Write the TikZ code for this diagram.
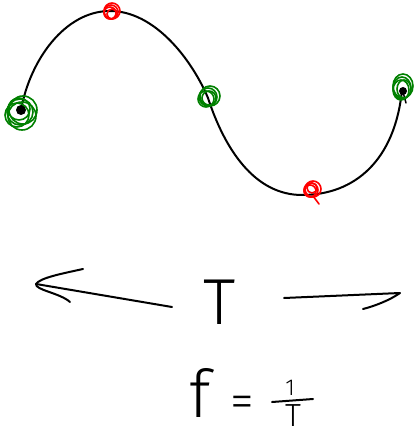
\documentclass[tikz,border=0pt]{standalone}
\usepackage{fontspec}
\usetikzlibrary{calc}
\IfFontExistsTF{Fira Sans Light}{\newfontfamily\thinT{Fira Sans Light}}{\newcommand\thinT{\sffamily}}
\begin{document}
\begin{tikzpicture}[x=1pt,y=-1pt,
  wave/.style={line width=2pt,line cap=round,line join=round},
  greenscrib/.style={draw=green!50!black,line width=1.6pt},
  redscrib/.style={draw=red,line width=1.6pt},
  hand/.style={line width=2pt,line cap=round,line join=round},
  lbl/.style={inner sep=0pt,font=\thinT}]
\useasboundingbox (0,0) rectangle (417,435);
% sine wave
\coordinate (start) at (21,110);
\coordinate (peak) at (110,11);
\coordinate (cross) at (208,98);
\coordinate (trough) at (302,195);
\coordinate (finish) at (402,90);
\draw[wave] (start) .. controls (30,60) and (65,11) .. (peak)
  .. controls (155,11) and (192,60) .. (cross)
  .. controls (225,150) and (255,195) .. (trough)
  .. controls (355,195) and (395,160) .. (finish);
% black end dots
\fill (start) circle (5pt);
\fill (403,91) circle (4pt);
\draw[wave,line width=1.5pt] (403,92) -- (406,103);
% green scribbles
\coordinate (g1) at (20,112);
\coordinate (g2) at (208,97);
\coordinate (g3) at (402,88);
\foreach \dx/\dy/\r in {0/0/13, 3/-2/14, -3/3/12, 2/4/14, -1/-3/11}
  \draw[greenscrib] ($(g1)+(\dx,\dy)$) circle (\r pt);
\foreach \dx/\dy/\r in {0/0/9, 2/-1/10, -2/2/8, 1/1/7}
  \draw[greenscrib] ($(g2)+(\dx,\dy)$) circle (\r pt);
\foreach \dx/\dy/\r in {0/0/9, 1/-2/10, -1/2/8, 2/1/7}
  \draw[greenscrib] ($(g3)+(\dx,\dy)$) ellipse (\r pt and \r pt+2pt);
% red scribbles
\coordinate (r1) at (111,12);
\coordinate (r2) at (311,190);
\foreach \dx/\dy/\r in {0/0/7, 1/-1/8, -1/1/6, 1/2/5}
  \draw[redscrib] ($(r1)+(\dx,\dy)$) circle (\r pt);
\foreach \dx/\dy/\r in {0/0/7, 2/-1/8, -1/1/6, 1/-2/5}
  \draw[redscrib] ($(r2)+(\dx,\dy)$) circle (\r pt);
\draw[redscrib,line cap=round] (313,196) -- (319,204);
% period arrows
\node[lbl,scale=6.5,anchor=base] (T) at (220,324) {T};
\coordinate (la) at (172,307);
\coordinate (ltip) at (36,284);
\coordinate (ra) at (284,298);
\coordinate (rtip) at (400,293);
\draw[hand] (la) -- (ltip);
\draw[hand] (83,269) .. controls (60,274) and (40,278) .. (ltip) .. controls (35,290) and (60,293) .. (70,302);
\draw[hand] (ra) -- (rtip) .. controls (390,300) and (375,306) .. (363,309);
% formula f = 1/T
\node[lbl,scale=6.6,anchor=base] (f) at (200,417) {f};
\node[lbl,scale=4.8] (eq) at (242,407) {=};
\node[lbl,scale=2.3,anchor=base] (one) at (290,395) {1};
\node[lbl,scale=3.2,anchor=base] (den) at (293,426) {T};
\coordinate (barL) at (272,402);
\coordinate (barR) at (313,399);
\draw[hand] (barL) -- (barR);
\end{tikzpicture}
\end{document}
